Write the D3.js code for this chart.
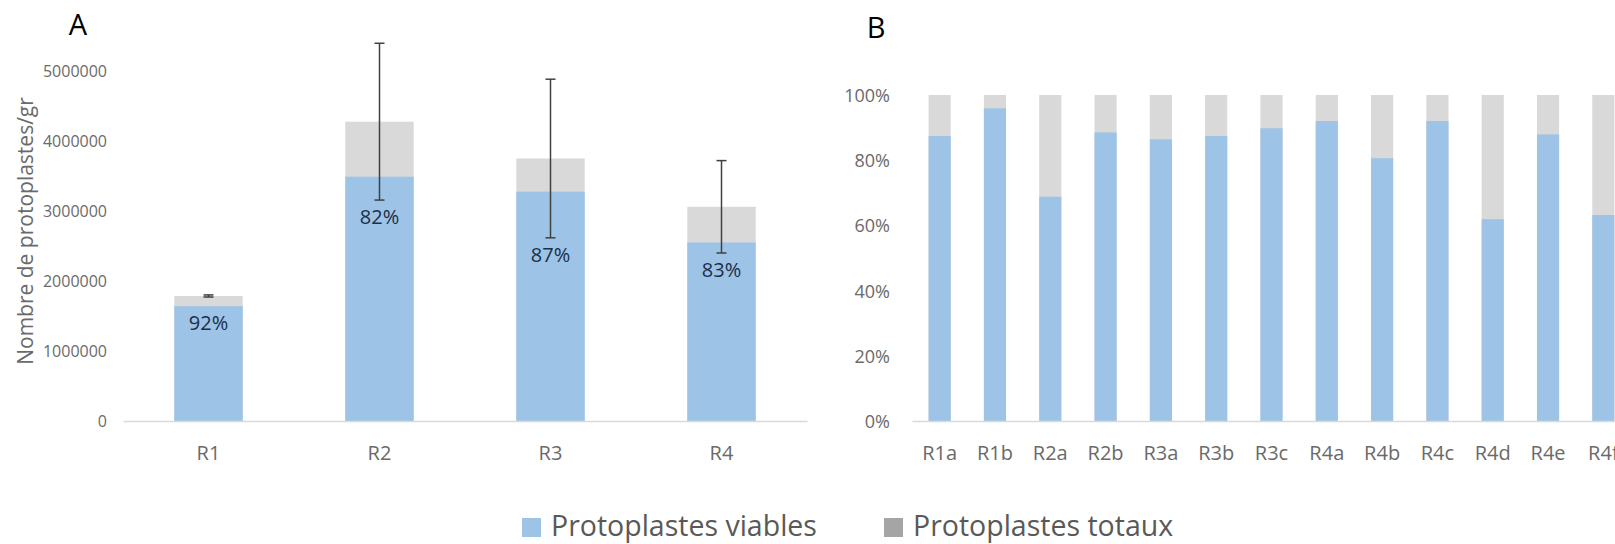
<!DOCTYPE html>
<html>
<head>
<meta charset="utf-8">
<script src="https://cdn.jsdelivr.net/npm/d3@7"></script>
<style>
  html, body { margin: 0; padding: 0; background: #ffffff; }
  svg { display: block; font-family: "Open Sans", "Noto Sans", sans-serif; }
</style>
</head>
<body>
<svg id="chart" width="1615" height="544"></svg>
<script>
// Panel A: protoplast yield per gram, one bar per extraction
const repCategories = ["R1", "R2", "R3", "R4"];
const totalCounts = [1786000, 4276000, 3750000, 3060000];
const viableCounts = [1640000, 3490000, 3276000, 2550000];
const countErrors = [15000, 1120000, 1133000, 660000];
const countTicks = [0, 1000000, 2000000, 3000000, 4000000, 5000000];

// Panel B: share of viable protoplasts per sample
const sampleCategories = ["R1a", "R1b", "R2a", "R2b", "R3a", "R3b", "R3c",
                          "R4a", "R4b", "R4c", "R4d", "R4e", "R4f"];
const viableShares = [0.874, 0.959, 0.688, 0.885, 0.864, 0.874, 0.898,
                      0.920, 0.806, 0.920, 0.619, 0.879, 0.632];
const shareTicks = [0, 0.2, 0.4, 0.6, 0.8, 1.0];

const legendLabels = ["Protoplastes viables", "Protoplastes totaux"];

const BLUE = "#9dc3e6";
const GREY = "#d9d9d9";
const LEGEND_GREY = "#a5a5a5";
const TEXT_GREY = "#6a6a6a";
const AXIS_GREY = "#d9d9d9";

const svg = d3.select("#chart");
svg.append("rect").attr("width", 1615).attr("height", 544).attr("fill", "#fff");

// ---------- Panel A ----------
const xA = d3.scaleBand().domain(repCategories).range([123, 807]).paddingInner(0.6).paddingOuter(0.3);
const yA = d3.scaleLinear().domain([0, 5500000]).range([421, 36]);

const gA = svg.append("g");

const rowsA = repCategories.map((c, i) => ({
  cat: c, total: totalCounts[i], viable: viableCounts[i], err: countErrors[i]
}));

gA.selectAll("rect.total").data(rowsA).join("rect")
  .attr("class", "total")
  .attr("x", d => xA(d.cat)).attr("width", xA.bandwidth())
  .attr("y", d => yA(d.total)).attr("height", d => yA(0) - yA(d.total))
  .attr("fill", GREY);

gA.selectAll("rect.viable").data(rowsA).join("rect")
  .attr("class", "viable")
  .attr("x", d => xA(d.cat)).attr("width", xA.bandwidth())
  .attr("y", d => yA(d.viable)).attr("height", d => yA(0) - yA(d.viable))
  .attr("fill", BLUE);

// error bars around the total count
const eb = gA.selectAll("g.err").data(rowsA).join("g").attr("class", "err")
  .attr("stroke", "#404040").attr("stroke-width", 1.5);
const cx = d => xA(d.cat) + xA.bandwidth() / 2;
eb.append("line")
  .attr("x1", cx).attr("x2", cx)
  .attr("y1", d => yA(d.total + d.err)).attr("y2", d => yA(d.total - d.err));
eb.append("line")
  .attr("x1", d => cx(d) - 5).attr("x2", d => cx(d) + 5)
  .attr("y1", d => yA(d.total + d.err)).attr("y2", d => yA(d.total + d.err));
eb.append("line")
  .attr("x1", d => cx(d) - 5).attr("x2", d => cx(d) + 5)
  .attr("y1", d => yA(d.total - d.err)).attr("y2", d => yA(d.total - d.err));

// viability labels, just below the lower whisker or the viable top
const pct = d3.format(".0%");
gA.selectAll("text.pct").data(rowsA).join("text")
  .attr("class", "pct")
  .attr("x", cx)
  .attr("y", d => Math.max(yA(d.total - d.err), yA(d.viable)) + 17)
  .attr("dy", "0.36em")
  .attr("text-anchor", "middle")
  .attr("font-size", 20)
  .attr("fill", "#1c2e4a")
  .text(d => pct(d.viable / d.total));

// axes
const axA = gA.append("g").attr("transform", "translate(0,421)")
  .call(d3.axisBottom(xA).tickSize(0).tickSizeOuter(0).tickPadding(25));
axA.select(".domain").attr("stroke", AXIS_GREY).attr("stroke-width", 1.5);
axA.selectAll("text").attr("font-size", 20).attr("fill", TEXT_GREY)
  .attr("font-family", "Open Sans");

const ayA = gA.append("g").attr("transform", "translate(123,0)")
  .call(d3.axisLeft(yA).tickValues(countTicks).tickFormat(d3.format("d")).tickSize(0).tickPadding(16));
ayA.select(".domain").remove();
ayA.selectAll("text").attr("font-size", 16).attr("fill", TEXT_GREY)
  .attr("font-family", "Open Sans").attr("dy", "0.36em");

gA.append("text")
  .attr("transform", "translate(33,231) rotate(-90)")
  .attr("text-anchor", "middle")
  .attr("font-size", 21)
  .attr("fill", TEXT_GREY)
  .text("Nombre de protoplastes/gr");

svg.append("text").attr("x", 78).attr("y", 35).attr("text-anchor", "middle")
  .attr("font-size", 29).attr("fill", "#000").text("A");

// ---------- Panel B ----------
const xB = d3.scaleBand().domain(sampleCategories).range([912, 1631]).paddingInner(0.6).paddingOuter(0.3);
const yB = d3.scaleLinear().domain([0, 1]).range([421, 95]);

const gB = svg.append("g");
const rowsB = sampleCategories.map((c, i) => ({ cat: c, share: viableShares[i] }));

gB.selectAll("rect.total").data(rowsB).join("rect")
  .attr("class", "total")
  .attr("x", d => xB(d.cat)).attr("width", xB.bandwidth())
  .attr("y", yB(1)).attr("height", yB(0) - yB(1))
  .attr("fill", GREY);

gB.selectAll("rect.viable").data(rowsB).join("rect")
  .attr("class", "viable")
  .attr("x", d => xB(d.cat)).attr("width", xB.bandwidth())
  .attr("y", d => yB(d.share)).attr("height", d => yB(0) - yB(d.share))
  .attr("fill", BLUE);

const axB = gB.append("g").attr("transform", "translate(0,421)")
  .call(d3.axisBottom(xB).tickSize(0).tickSizeOuter(0).tickPadding(25));
axB.select(".domain").attr("stroke", AXIS_GREY).attr("stroke-width", 1.5);
axB.selectAll("text").attr("font-size", 20).attr("fill", TEXT_GREY)
  .attr("font-family", "Open Sans");

const ayB = gB.append("g").attr("transform", "translate(912,0)")
  .call(d3.axisLeft(yB).tickValues(shareTicks).tickFormat(d3.format(".0%")).tickSize(0).tickPadding(22));
ayB.select(".domain").remove();
ayB.selectAll("text").attr("font-size", 18).attr("fill", TEXT_GREY)
  .attr("font-family", "Open Sans").attr("dy", "0.36em");

svg.append("text").attr("x", 876).attr("y", 38).attr("text-anchor", "middle")
  .attr("font-size", 29).attr("fill", "#000").text("B");

// ---------- Legend ----------
const legend = svg.append("g");
const legendItems = [
  { label: legendLabels[0], color: BLUE, x: 522 },
  { label: legendLabels[1], color: LEGEND_GREY, x: 884 }
];
legendItems.forEach(it => {
  legend.append("rect").attr("x", it.x).attr("y", 518).attr("width", 19).attr("height", 19)
    .attr("fill", it.color);
  legend.append("text").attr("x", it.x + 29).attr("y", 536)
    .attr("font-size", 28.5).attr("fill", "#595959").text(it.label);
});
</script>
</body>
</html>
